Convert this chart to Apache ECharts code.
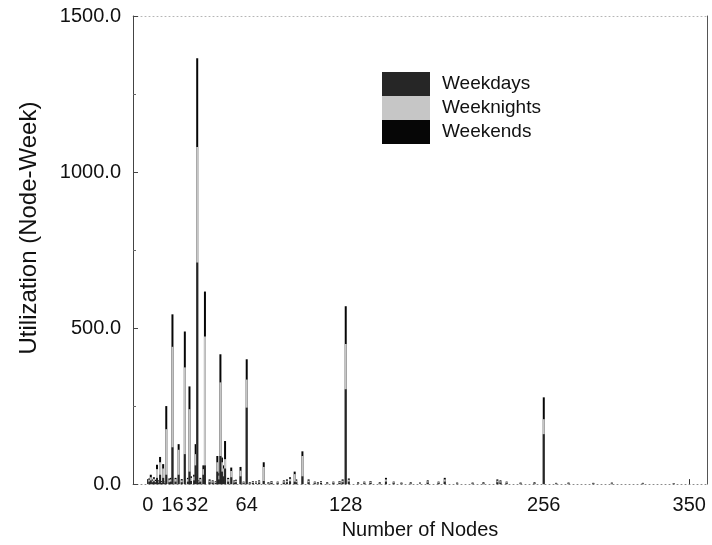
<!DOCTYPE html>
<html>
<head>
<meta charset="utf-8">
<title>Utilization by Number of Nodes</title>
<script src="https://cdn.jsdelivr.net/npm/echarts@6/dist/echarts.min.js"></script>
<style>
  html, body { margin: 0; padding: 0; background: #fff; }
  #chart { width: 712px; height: 545px; }
</style>
</head>
<body>
<div id="chart"></div>
<script>
// Job sizes (number of nodes) and utilization per period, in node-weeks
const nodes = [1, 2, 3, 4, 5, 6, 7, 8, 9, 10, 11, 12, 14, 15, 16, 18, 20, 22, 24, 26,
  27, 28, 30, 31, 32, 33, 34, 36, 37, 40, 42, 44, 45, 46, 47, 48, 49, 50, 52, 54,
  56, 57, 60, 62, 64, 66, 68, 70, 72, 75, 78, 80, 84, 88, 90, 92, 95, 96, 100, 104,
  108, 110, 112, 116, 120, 124, 126, 128, 130, 136, 140, 144, 150, 154, 159, 164, 170, 176, 181, 188,
  192, 200, 210, 217, 226, 228, 232, 241, 250, 256, 264, 272, 288, 300, 320, 340];

const weekdays = [8, 12, 6, 9, 6, 20, 5, 30, 4, 20, 3, 30, 6, 8, 118, 8, 30, 6, 96, 8,
  40, 10, 12, 60, 710, 5, 8, 30, 60, 6, 5, 4, 40, 15, 90, 40, 25, 50, 8, 22,
  5, 6, 25, 3, 245, 2, 4, 3, 5, 10, 2, 4, 3, 5, 6, 9, 8, 6, 25, 6,
  3, 2, 4, 2, 3, 4, 6, 304, 8, 2, 3, 4, 2, 8, 3, 2, 2, 2, 5, 3,
  8, 2, 2, 2, 6, 5, 3, 2, 2, 160, 2, 2, 2, 2, 2, 1];

const weeknights = [6, 10, 5, 8, 4, 28, 4, 40, 3, 30, 3, 146, 8, 7, 322, 8, 80, 6, 278, 8,
  200, 10, 12, 36, 370, 4, 8, 18, 413, 5, 4, 4, 30, 12, 236, 30, 25, 30, 8, 20,
  4, 5, 18, 3, 90, 2, 4, 3, 4, 45, 2, 4, 3, 4, 5, 8, 24, 5, 65, 5,
  3, 2, 4, 2, 3, 4, 5, 145, 6, 2, 3, 4, 2, 7, 3, 2, 2, 2, 4, 3,
  7, 2, 2, 2, 5, 4, 3, 2, 2, 48, 1, 2, 1, 2, 1, 1];

const weekends = [4, 8, 4, 5, 4, 14, 3, 17, 3, 14, 2, 74, 4, 5, 104, 4, 18, 4, 115, 4,
  73, 5, 6, 32, 285, 3, 4, 12, 144, 4, 3, 2, 20, 8, 90, 15, 10, 58, 4, 11,
  3, 3, 12, 2, 65, 2, 2, 2, 3, 15, 2, 2, 2, 3, 4, 5, 8, 4, 15, 4,
  2, 2, 2, 2, 2, 2, 4, 121, 4, 2, 2, 2, 2, 5, 2, 1, 2, 1, 3, 2,
  5, 1, 1, 2, 4, 3, 2, 1, 2, 70, 1, 1, 1, 1, 1, 1];

const xTickValues = [0, 16, 32, 64, 128, 256, 350];
const seriesNames = ['Weekdays', 'Weeknights', 'Weekends'];
const seriesColors = ['#262626', '#c6c6c6', '#060606'];

const FONT = "'Liberation Sans', Arial, Helvetica, sans-serif";
const TEXT = '#111';

// Stacked columns: each segment is drawn as a bar reaching the running total,
// painted back to front (weekends behind, weekdays in front).
const layers = [weekdays, weeknights, weekends];
const cumulative = layers.map((_, k) =>
  nodes.map((n, i) => {
    let sum = 0;
    for (let j = 0; j <= k; j++) sum += layers[j][i];
    return [n, sum];
  })
);

const chart = echarts.init(document.getElementById('chart'), null, { renderer: 'canvas' });

chart.setOption({
  animation: false,
  backgroundColor: '#fff',
  textStyle: { fontFamily: FONT },
  grid: { left: 133, right: 5, top: 16, bottom: 60, containLabel: false },
  legend: {
    data: seriesNames,
    orient: 'vertical',
    left: 377,
    top: 67,
    itemWidth: 48,
    itemHeight: 24,
    itemGap: 0,
    icon: 'rect',
    selectedMode: false,
    textStyle: { fontFamily: FONT, fontSize: 19, color: TEXT, padding: [0, 0, 0, 7], lineHeight: 24 }
  },
  xAxis: [
    {
      type: 'value',
      position: 'bottom',
      min: -9.5,
      max: 361.5,
      name: 'Number of Nodes',
      nameLocation: 'middle',
      nameGap: 34,
      nameTextStyle: { fontFamily: FONT, fontSize: 20, color: TEXT },
      axisLine: { show: true, onZero: false, lineStyle: { color: '#8a8a8a', type: [1, 3], width: 1 } },
      axisTick: { show: true, inside: true, length: 5, customValues: xTickValues, lineStyle: { color: '#333' } },
      axisLabel: { customValues: xTickValues, fontFamily: FONT, fontSize: 20, color: TEXT, margin: 11 },
      splitLine: { show: false }
    },
    {
      type: 'value',
      position: 'top',
      min: -9.5,
      max: 361.5,
      axisLine: { show: true, onZero: false, lineStyle: { color: '#b5b5b5', type: [1, 3], width: 1 } },
      axisTick: { show: false },
      axisLabel: { show: false },
      splitLine: { show: false }
    }
  ],
  yAxis: [
    {
      type: 'value',
      position: 'left',
      min: 0,
      max: 1500,
      interval: 500,
      name: 'Utilization (Node-Week)',
      nameLocation: 'middle',
      nameGap: 92,
      nameTextStyle: { fontFamily: FONT, fontSize: 24, color: TEXT, padding: [0, 0, 0, 44] },
      axisLine: { show: true, onZero: false, lineStyle: { color: '#444', width: 1 } },
      axisTick: { show: true, inside: true, length: 5, lineStyle: { color: '#444' } },
      minorTick: { show: true, splitNumber: 2, length: 3, lineStyle: { color: '#666' } },
      axisLabel: {
        fontFamily: FONT, fontSize: 20, color: TEXT, margin: 12,
        formatter: v => v.toFixed(1)
      },
      splitLine: { show: false }
    },
    {
      type: 'value',
      position: 'right',
      min: 0,
      max: 1500,
      axisLine: { show: true, onZero: false, lineStyle: { color: '#555', width: 1 } },
      axisTick: { show: false },
      axisLabel: { show: false },
      splitLine: { show: false }
    }
  ],
  series: seriesNames.map((name, k) => ({
    name: name,
    type: 'bar',
    xAxisIndex: 0,
    yAxisIndex: 0,
    barWidth: 2,
    barGap: '-100%',
    z: 10 - k,
    itemStyle: { color: seriesColors[k] },
    emphasis: { disabled: true },
    data: cumulative[k]
  }))
});
</script>
</body>
</html>
